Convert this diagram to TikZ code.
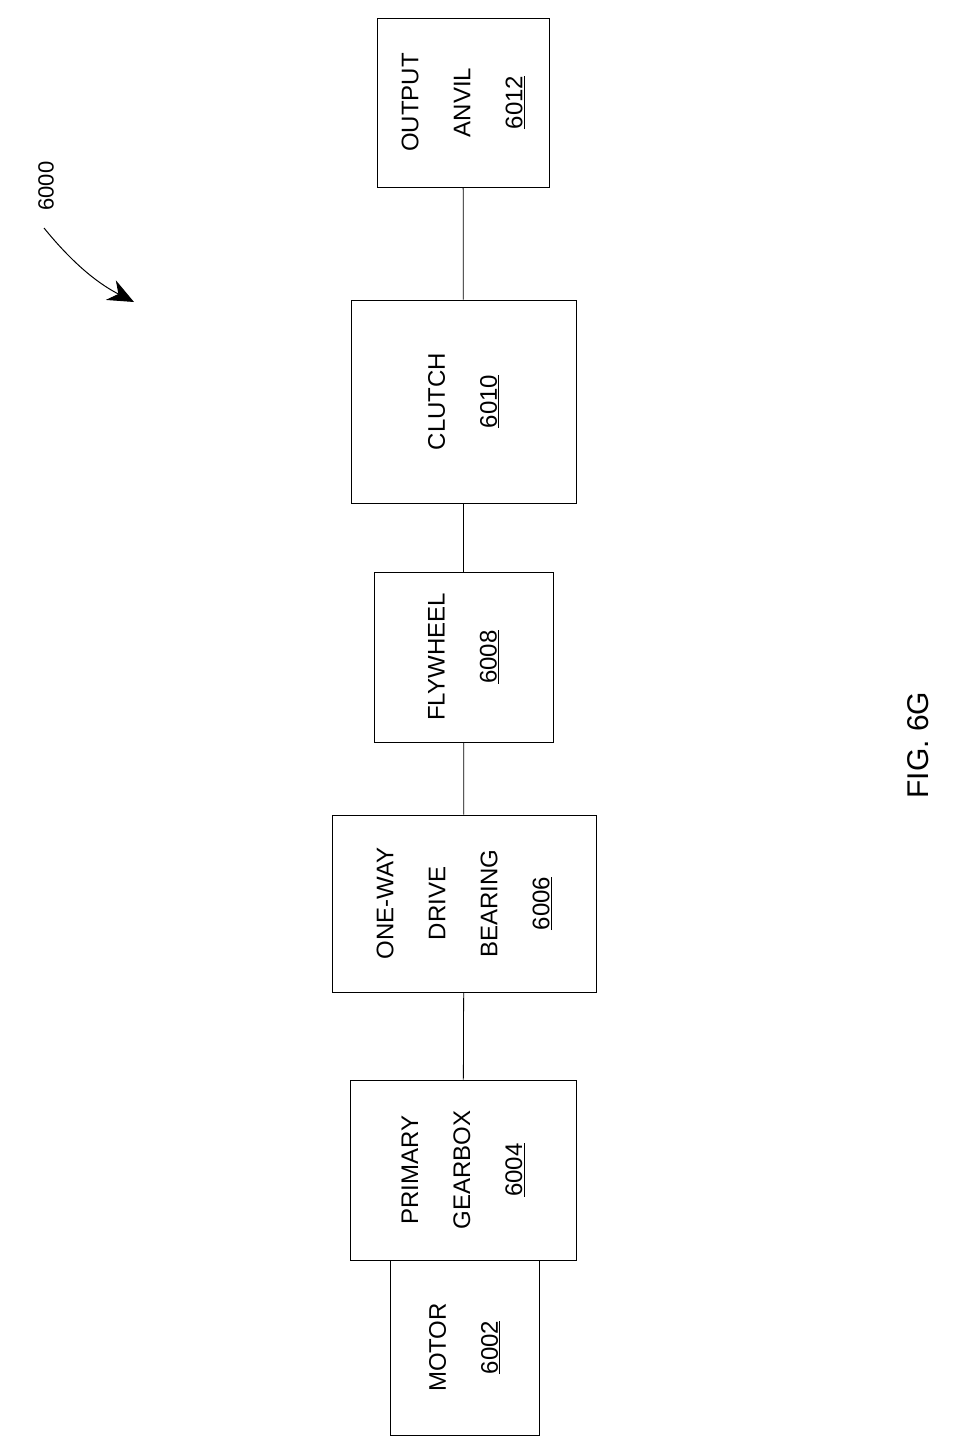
\documentclass[tikz,border=0pt]{standalone}
\usepackage{fontspec}
\setmainfont{Liberation Sans}
\usetikzlibrary{arrows.meta}
\tikzset{
  blk/.style={draw, line width=1pt, rotate=90, align=center, inner sep=0pt,
    font=\fontsize{24}{52}\selectfont},
  link/.style={line width=0.8pt}
}
\begin{document}
\begin{tikzpicture}[x=1pt, y=-1pt]
\useasboundingbox (0,0) rectangle (954,1454);

% blocks, top to bottom
\node[blk, minimum width=169pt, minimum height=172pt] (anvil) at (463,102.5) {OUTPUT\\ANVIL\\\underline{6012}};
\node[blk, minimum width=203pt, minimum height=225pt] (clutch) at (463.5,401.5) {CLUTCH\\\underline{6010}};
\node[blk, minimum width=170pt, minimum height=179pt] (fly) at (463.5,657) {FLYWHEEL\\\underline{6008}};
\node[blk, minimum width=177pt, minimum height=264pt] (oneway) at (464,903.5) {ONE-WAY\\DRIVE\\BEARING\\\underline{6006}};
\node[blk, minimum width=175pt, minimum height=149pt] (motor) at (464.5,1347.5) {MOTOR\\\underline{6002}};
\node[blk, minimum width=180pt, minimum height=226pt, fill=white] (gear) at (463,1170) {PRIMARY\\GEARBOX\\\underline{6004}};

\draw[link] (anvil) -- (clutch);
\draw[link] (clutch) -- (fly);
\draw[link] (fly) -- (oneway);
\draw[link] (oneway) -- (gear);

% reference numeral
\node[rotate=90, font=\fontsize{22}{24}\selectfont] (ref) at (46,186) {6000};
\coordinate (tip) at (134,302);
\draw[line width=1pt, -{Stealth[length=26pt, width=22pt]}] (44,228) .. controls (70,260) and (95,282) .. (tip);

\node[rotate=90, font=\fontsize{30}{36}\selectfont] (fig) at (918,745) {FIG. 6G};
\end{tikzpicture}
\end{document}
